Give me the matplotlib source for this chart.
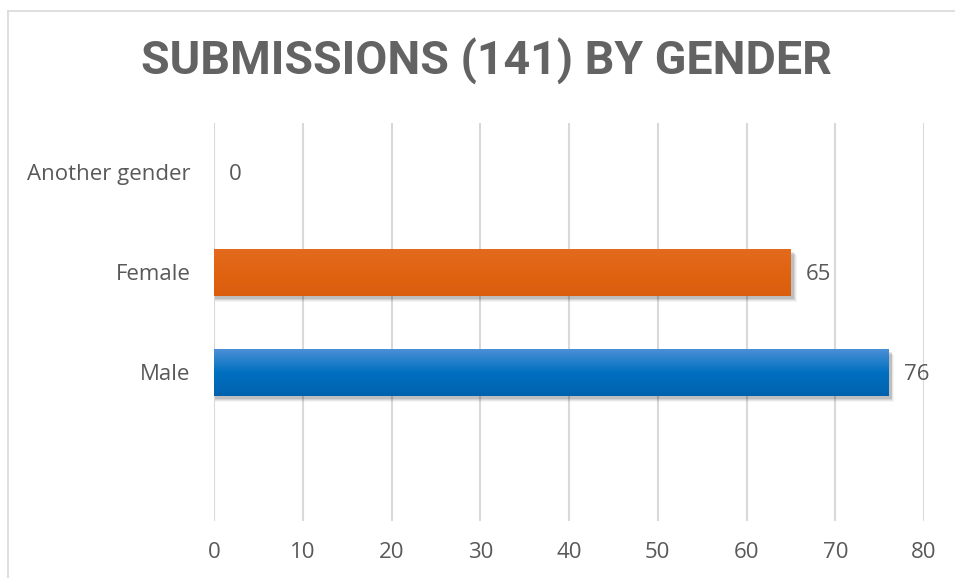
import numpy as np
import matplotlib
matplotlib.use("Agg")
import matplotlib.pyplot as plt
from matplotlib.colors import LinearSegmentedColormap
from matplotlib.lines import Line2D

# data
categories = ["Male", "Female", "Another gender"]
counts = [76, 65, 0]
xticks = [0, 10, 20, 30, 40, 50, 60, 70, 80]
title = "SUBMISSIONS (141) BY GENDER"

# colours per bar: top, middle, bottom of the gradient
bar_grads = [["#4A8FD6", "#0070C0", "#0062AE"],
             ["#E36A1E", "#E06311", "#DA5E0E"],
             ["#A9C9EA", "#A9C9EA", "#A9C9EA"]]

plt.rcParams['font.family'] = ['Open Sans', 'DejaVu Sans']

W, H = 955, 578
fig = plt.figure(figsize=(W / 100, H / 100), dpi=100)
ax = fig.add_axes([214 / W, 1 - 521 / H, 710 / W, 398 / H])

bar_h = 0.47
ypos = np.arange(len(categories))
for y, v, cols in zip(ypos, counts, bar_grads):
    if v <= 0:
        continue
    # soft shadow under the bar
    for k, a in enumerate([0.10, 0.08, 0.06, 0.04]):
        ax.barh(y - 0.03 - 0.012 * k, v + 0.25 + 0.1 * k, height=bar_h, left=0.1,
                color="black", alpha=a, lw=0, zorder=2)
    cmap = LinearSegmentedColormap.from_list("g", cols[::-1])
    grad = np.linspace(0, 1, 100).reshape(-1, 1)
    ax.imshow(grad, cmap=cmap, aspect="auto", origin="lower",
              extent=[0, v, y - bar_h / 2, y + bar_h / 2], zorder=3)

for y, v in zip(ypos, counts):
    ax.annotate(str(v), (v, y - 0.02), xytext=(11, 0), textcoords="offset points",
                va="center", ha="left", fontsize=16, color="#595959")

ax.set_xlim(0, 80)
ax.set_ylim(-1.49, 2.49)
ax.set_xticks(xticks)
ax.set_yticks(ypos)
ax.set_yticklabels(categories)
ax.tick_params(axis="both", length=0, labelsize=16, labelcolor="#595959")
ax.tick_params(axis="y", pad=17)
ax.tick_params(axis="x", pad=15)
ax.grid(axis="x", color="#D9D9D9", lw=1.5, zorder=0)
ax.set_axisbelow(True)
for s in ax.spines.values():
    s.set_visible(False)

# title: no condensed face available, so fit a bold face to the reference width
t = fig.text(486 / W, 1 - 61 / H, title, ha="center", va="center",
             fontsize=32, fontweight="bold", color="#636363",
             family=["Roboto", "DejaVu Sans"])
r = fig.canvas.get_renderer()
tw = t.get_window_extent(renderer=r).width
t.set_fontsize(32 * 693 / tw)

# outer frame of the chart (cut at right and bottom)
fx, fy = 7.5 / W, 1 - 10.5 / H
fig.add_artist(Line2D([fx, fx], [0, fy], color="#D9D9D9", lw=1.2))
fig.add_artist(Line2D([fx, 1], [fy, fy], color="#D9D9D9", lw=1.2))

fig.savefig("out.png", dpi=100)
